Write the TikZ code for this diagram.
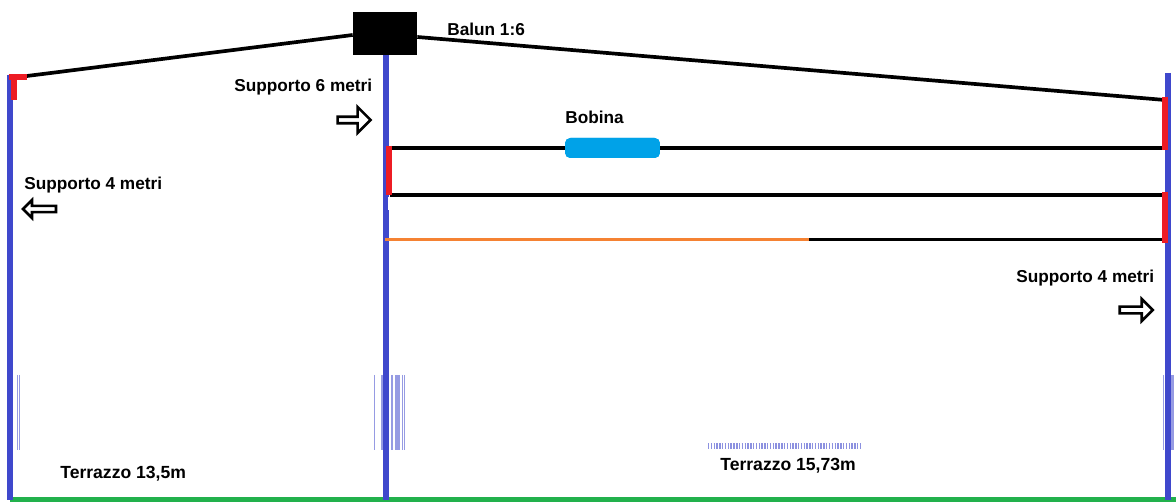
\documentclass[tikz,border=0pt]{standalone}
\usepackage{fontspec}
\setmainfont{Liberation Sans}
\usepackage{tikz}
\usetikzlibrary{shapes.arrows}
\definecolor{palo}{HTML}{3F48CC}
\definecolor{fissa}{HTML}{ED1C24}
\definecolor{filo}{HTML}{F58233}
\definecolor{terra}{HTML}{22B14C}
\definecolor{coil}{HTML}{00A2E8}
\tikzset{
  label/.style={font=\bfseries\fontsize{9.8}{12}\selectfont,inner sep=0pt},
  biglabel/.style={font=\bfseries\fontsize{10}{12}\selectfont,inner sep=0pt},
  support/.style={line width=3.4pt,draw=palo},
  wire/.style={line width=2.1pt,draw=black},
  clamp/.style={line width=3pt,draw=fissa},
  stripe/.style={line width=0.6pt,draw=palo,opacity=0.55},
  pointer/.style={single arrow,draw=black,fill=white,line width=1.5pt,inner sep=0pt,
    single arrow head extend=0.8mm,single arrow head indent=0pt,
    minimum height=0.66cm,minimum width=0.42cm}
}
\begin{document}
\begin{tikzpicture}[x=0.02cm,y=-0.02cm]
          \useasboundingbox (0,0) rectangle (1176,502);
          \coordinate (LT) at (10,75);
          \coordinate (LB) at (10,500);
          \coordinate (CT) at (386,55);
          \coordinate (CB) at (386,500);
          \coordinate (RT) at (1168,73);
          \coordinate (RB) at (1168,500);
          \coordinate (GL) at (10,499.5);
          \coordinate (GR) at (1176,499.5);
          \foreach \x in {17.5,19.5} \draw[stripe] (\x,375) -- (\x,450);
          \foreach \x in {374.5,382,384,392,396,397.5,399,402.5,404.5} \draw[stripe] (\x,375) -- (\x,450);
          \foreach \x in {1163.5,1165.5,1171.5,1173} \draw[stripe] (\x,375) -- (\x,450);
          \coordinate (NL) at (708,446);
          \coordinate (NR) at (860,446);
          \draw[palo,line width=3pt,dash pattern=on 0.8pt off 0.8pt,opacity=0.6] (NL) -- (NR);
          \draw[terra,line width=2.8pt] (GL) -- (GR);
          \draw[support] (LT) -- (LB);
          \draw[support] (CT) -- (CB);
          \draw[support] (RT) -- (RB);
          \node[fill=black,minimum width=1.28cm,minimum height=0.86cm,inner sep=0pt] (balun) at (385,33.5) {};
          \node[fill=coil,rounded corners=3pt,minimum width=1.9cm,minimum height=0.4cm,inner sep=0pt] (bobina) at (612.5,148) {};
          \coordinate (A1) at (19,77);
          \coordinate (A2) at (1165,100);
          \coordinate (B1) at (390,148);
          \coordinate (B2) at (1165,148);
          \coordinate (C1) at (390,195);
          \coordinate (C2) at (1165,195);
          \coordinate (D1) at (385,239.5);
          \coordinate (D2) at (809,239.5);
          \coordinate (D3) at (1165,239.5);
          \draw[wire] (A1) -- (balun.west |- 0,35);
          \draw[wire] (balun.east |- 0,37) -- (A2);
          \draw[wire] (B1) -- (bobina);
          \draw[wire] (bobina) -- (B2);
          \draw[wire] (C1) -- (C2);
          \draw[filo,line width=2.2pt] (D1) -- (D2);
          \draw[wire] (D2) -- (D3);
          \node[fill=coil,rounded corners=3pt,minimum width=1.9cm,minimum height=0.4cm,inner sep=0pt] at (bobina) {};
          \draw[clamp] (14,75.5) -- (14,100);
          \draw[clamp] (8.5,77) -- (27,77);
          \draw[clamp] (389,146) -- (389,195);
          \draw[clamp] (1165,97) -- (1165,150);
          \draw[clamp] (1165,192) -- (1165,243);
          \draw[white,line width=1.1pt] (388.5,197) -- (388.5,210);
          \node[label,anchor=west] (balunlabel) at (447,29) {Balun 1:6};
          \node[label,anchor=west] (bobinalabel) at (565,117) {Bobina};
          \node[label,anchor=west] (supp6) at (234,87.5) {Supporto 6 metri};
          \node[label,anchor=west] (suppL) at (24,185.5) {Supporto 4 metri};
          \node[label,anchor=west] (suppR) at (1016,278.5) {Supporto 4 metri};
          \node[biglabel,anchor=west] (terr1) at (60,473.5) {Terrazzo 13,5m};
          \node[biglabel,anchor=west] (terr2) at (720,465.5) {Terrazzo 15,73m};
          \node[pointer,minimum width=0.52cm] (arr6) at (352.5,120) {};
          \node[pointer,shape border rotate=180,minimum width=0.36cm,single arrow head extend=0.5mm] (arrL) at (41,209) {};
          \node[pointer,minimum width=0.44cm,single arrow head extend=0.6mm] (arrR) at (1134.5,310) {};
        \end{tikzpicture}
\end{document}
